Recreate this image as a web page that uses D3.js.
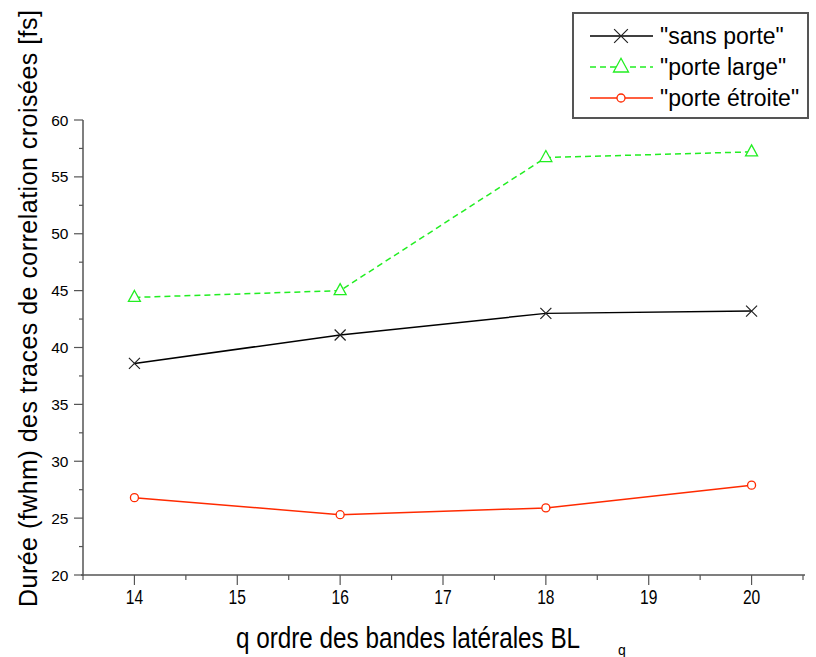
<!DOCTYPE html>
<html><head><meta charset="utf-8">
<script src="https://cdn.jsdelivr.net/npm/d3@7"></script>
<style>body{margin:0;background:#fff}svg{display:block}</style>
</head><body>
<script>
const xValues = [14, 16, 18, 20];
const sansPorte = [38.6, 41.1, 43.0, 43.2];
const porteLarge = [44.4, 45.0, 56.7, 57.2];
const porteEtroite = [26.8, 25.3, 25.9, 27.9];
const seriesNames = ['"sans porte"', '"porte large"', '"porte étroite"'];
const xTicks = [14, 15, 16, 17, 18, 19, 20];
const yTicks = [20, 25, 30, 35, 40, 45, 50, 55, 60];

const W = 816, H = 657;
const svg = d3.select("body").append("svg").attr("width", W).attr("height", H);
const x = d3.scaleLinear().domain([13.5, 20.5]).range([83, 803]);
const y = d3.scaleLinear().domain([20, 60]).range([575, 120]);
const axisColor = "#555";
const font = "'Liberation Sans',Arial,sans-serif";

// x axis
const gx = svg.append("g");
gx.append("line").attr("x1", 81).attr("x2", 805).attr("y1", 575).attr("y2", 575).attr("stroke", axisColor).attr("stroke-width", 1.5);
d3.range(13.5, 20.51, 0.5).forEach(v => {
  const major = Number.isInteger(v);
  gx.append("line").attr("x1", x(v)).attr("x2", x(v)).attr("y1", 575).attr("y2", 575 + (major ? 10 : 5)).attr("stroke", axisColor).attr("stroke-width", 1.2);
});
gx.selectAll("text").data(xTicks).join("text")
  .attr("transform", d => `translate(${x(d)},604) scale(0.8,1)`).attr("text-anchor", "middle")
  .attr("font-family", font).attr("font-size", 19.5).attr("fill", "#000")
  .text(d => d);

// y axis
const gy = svg.append("g");
gy.append("line").attr("x1", 83).attr("x2", 83).attr("y1", 120).attr("y2", 576).attr("stroke", axisColor).attr("stroke-width", 1.5);
d3.range(20, 60.01, 2.5).forEach(v => {
  const major = v % 5 === 0;
  gy.append("line").attr("x1", 83 - (major ? 9 : 4)).attr("x2", 83).attr("y1", y(v)).attr("y2", y(v)).attr("stroke", axisColor).attr("stroke-width", 1.2);
});
gy.selectAll("text").data(yTicks).join("text")
  .attr("x", 68).attr("y", d => y(d) + 5.5).attr("text-anchor", "end")
  .attr("font-family", font).attr("font-size", 15.5).attr("fill", "#000").attr("letter-spacing", -0.3)
  .text(d => d);

// axis titles
svg.append("text").attr("transform", "translate(408,648) scale(0.81,1)").attr("text-anchor", "middle")
  .attr("font-family", font).attr("font-size", 30).attr("fill", "#000")
  .text("q ordre des bandes latérales BL");
svg.append("text").attr("x", 622).attr("y", 655).attr("text-anchor", "middle")
  .attr("font-family", font).attr("font-size", 14).attr("fill", "#000").text("q");

svg.append("text").attr("transform", "translate(37,308.5) rotate(-90)").attr("text-anchor", "middle")
  .attr("font-family", font).attr("font-size", 25).attr("fill", "#000")
  .attr("textLength", 597).attr("lengthAdjust", "spacing")
  .text("Durée (fwhm) des traces de correlation croisées [fs]");

// series
const series = [
  {name: seriesNames[0], values: sansPorte, color: "#000", dash: null, marker: "x"},
  {name: seriesNames[1], values: porteLarge, color: "#22ee22", dash: "6,4", marker: "tri"},
  {name: seriesNames[2], values: porteEtroite, color: "#ff2a00", dash: null, marker: "circ"}
];
function drawMarker(g, type, cx, cy, color, big) {
  const k = big ? 1.25 : 1;
  if (type === "x") {
    const s = 5.5 * k;
    g.append("path").attr("d", `M${cx-s},${cy-s}L${cx+s},${cy+s}M${cx-s},${cy+s}L${cx+s},${cy-s}`)
      .attr("stroke", "#222").attr("stroke-width", 1.2).attr("fill", "none");
  } else if (type === "tri") {
    g.append("path").attr("d", `M${cx},${cy-7*k}L${cx+6*k},${cy+4*k}L${cx-6*k},${cy+4*k}Z`)
      .attr("stroke", color).attr("stroke-width", 1.3).attr("fill", "#fff");
  } else {
    g.append("circle").attr("cx", cx).attr("cy", cy).attr("r", 4)
      .attr("stroke", color).attr("stroke-width", 1.3).attr("fill", "#fff");
  }
}
const line = d3.line().x(d => x(d[0])).y(d => y(d[1]));
series.forEach(s => {
  const pts = xValues.map((v, i) => [v, s.values[i]]);
  svg.append("path").attr("d", line(pts)).attr("fill", "none").attr("stroke", s.color)
    .attr("stroke-width", 1.5).attr("stroke-dasharray", s.dash);
  const g = svg.append("g");
  pts.forEach(p => drawMarker(g, s.marker, x(p[0]), y(p[1]), s.color, false));
});

// legend
const lg = svg.append("g");
lg.append("rect").attr("x", 573).attr("y", 13).attr("width", 235).attr("height", 105)
  .attr("fill", "#fff").attr("stroke", "#555").attr("stroke-width", 2);
series.forEach((s, i) => {
  const ly = 36 + i * 31;
  lg.append("line").attr("x1", 590).attr("x2", 653).attr("y1", ly).attr("y2", ly)
    .attr("stroke", s.color).attr("stroke-width", 1.5).attr("stroke-dasharray", s.dash);
  drawMarker(lg, s.marker, 621, ly, s.color, true);
  lg.append("text").attr("x", 660).attr("y", ly + 7.5).attr("font-family", font)
    .attr("font-size", 23).attr("fill", "#000").text(s.name);
});
</script>
</body></html>
